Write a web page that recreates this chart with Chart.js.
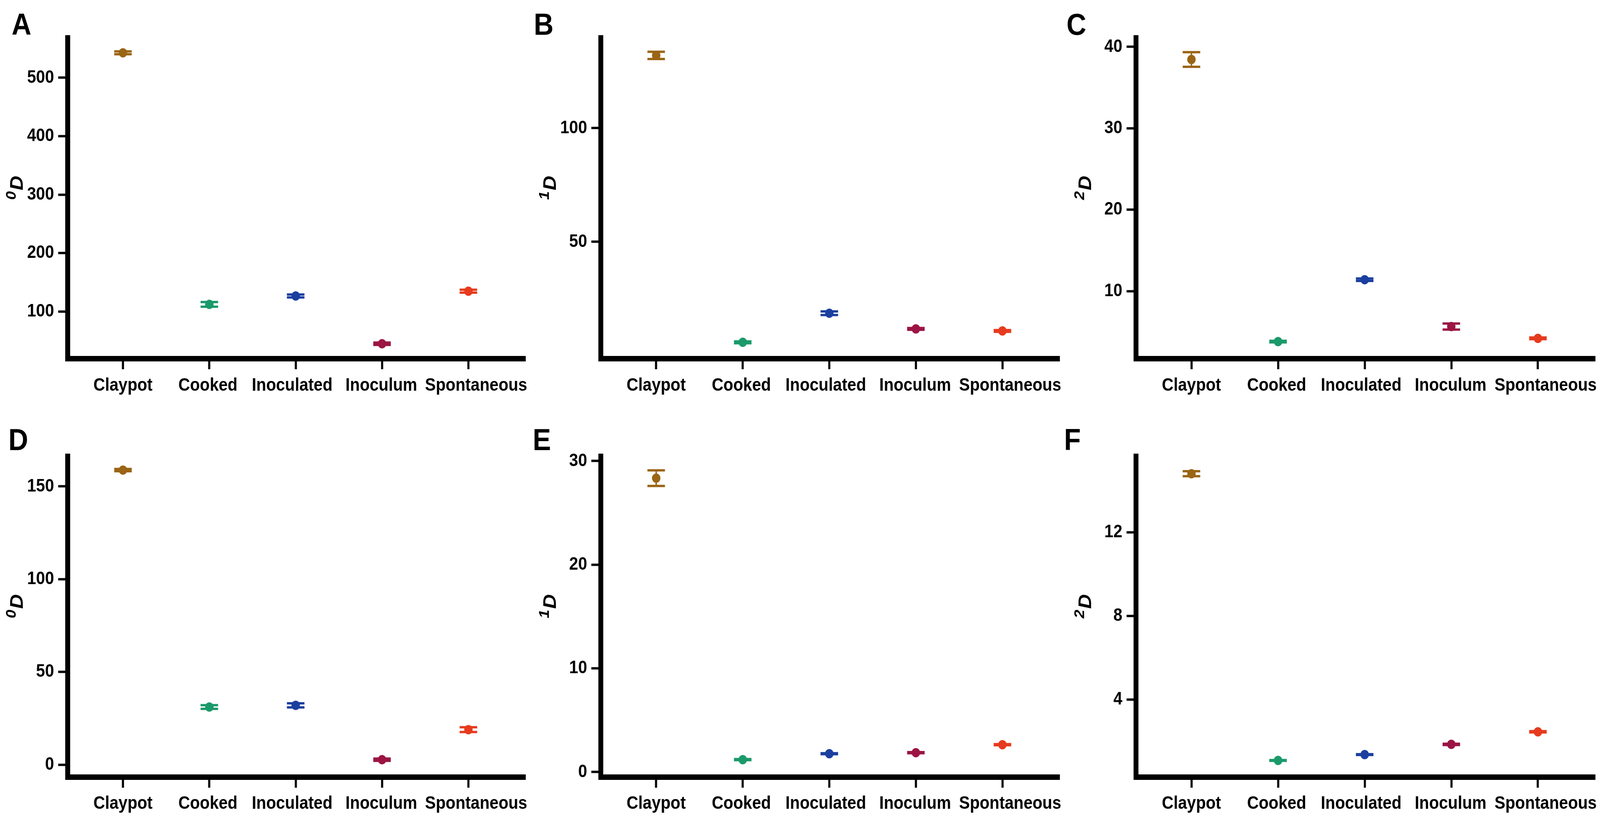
<!DOCTYPE html>
<html>
<head>
<meta charset="utf-8">
<script src="https://cdn.jsdelivr.net/npm/chart.js@4.4.1/dist/chart.umd.min.js"></script>
<style>
  html, body { margin: 0; padding: 0; background: #fff; overflow: hidden; }
  #page { width: 4562px; height: 2091px; position: absolute; left: 0; top: 0; transform-origin: 0 0; font-family: 'Liberation Sans', Arial, sans-serif; }
  canvas { position: absolute; }
  .tag { position: absolute; font-weight: bold; font-size: 78px; line-height: 1; color: #000; }
</style>
</head>
<body>
<div id="page">
<div class="tag" style="left:33px;top:23px">A</div>
<div class="tag" style="left:1522px;top:23px">B</div>
<div class="tag" style="left:3041px;top:23px">C</div>
<div class="tag" style="left:24px;top:1086px">D</div>
<div class="tag" style="left:1519px;top:1086px">E</div>
<div class="tag" style="left:3034px;top:1086px">F</div>

<canvas id="chartA" width="1520" height="1045" style="left:0;top:0;width:1520px;height:1045px"></canvas>
<canvas id="chartB" width="1520" height="1045" style="left:1520px;top:0;width:1520px;height:1045px"></canvas>
<canvas id="chartC" width="1522" height="1045" style="left:3040px;top:0;width:1522px;height:1045px"></canvas>
<canvas id="chartD" width="1520" height="1046" style="left:0;top:1045px;width:1520px;height:1046px"></canvas>
<canvas id="chartE" width="1520" height="1046" style="left:1520px;top:1045px;width:1520px;height:1046px"></canvas>
<canvas id="chartF" width="1522" height="1046" style="left:3040px;top:1045px;width:1522px;height:1046px"></canvas>
</div>

<script>
// Nhóm mẫu và màu
const categories = ['Claypot', 'Cooked', 'Inoculated', 'Inoculum', 'Spontaneous'];
const groupColors = ['#9a6514', '#1a9a6a', '#1b3f9f', '#9b1444', '#e63b1e'];

// A: 0D (hàng trên)
const meanA = [542.7, 112, 126.5, 44.7, 134.7];
const sdA = [2.5, 4, 2.5, 2, 2.5];
const ticksA = [100, 200, 300, 400, 500];
const rangeA = [19.1, 568.2];

// B: 1D
const meanB = [132, 5.8, 18.6, 11.7, 10.8];
const sdB = [1.6, 0.4, 0.8, 0.4, 0.4];
const ticksB = [50, 100];
const rangeB = [-1.4, 139.7];

// C: 2D
const meanC = [38.45, 3.8, 11.4, 5.65, 4.2];
const sdC = [0.9, 0.1, 0.15, 0.37, 0.1];
const ticksC = [10, 20, 30, 40];
const rangeC = [1.7, 41.1];

// D: 0D (hàng dưới)
const meanD = [158.8, 31.1, 32, 2.7, 18.9];
const sdD = [0.6, 1, 1.1, 0.6, 1.3];
const ticksD = [0, 50, 100, 150];
const rangeD = [-6.7, 166.2];

// E: 1D
const meanE = [28.35, 1.2, 1.77, 1.87, 2.64];
const sdE = [0.75, 0.05, 0.05, 0.05, 0.05];
const ticksE = [0, 10, 20, 30];
const rangeE = [-0.49, 30.45];

// F: 2D
const meanF = [14.8, 1.08, 1.36, 1.85, 2.45];
const sdF = [0.12, 0.02, 0.02, 0.03, 0.03];
const ticksF = [4, 8, 12];
const rangeF = [0.28, 15.63];

const FONT = "'Liberation Sans', Arial, sans-serif";
// Dịch nhãn trục x (px) để các nhãn không dính nhau
const labelShift = [0, -4, -10, -2, 22];

// Co giãn toàn trang theo khung nhìn thực tế
const page = document.getElementById('page');
page.style.transform = `scale(${window.innerWidth / 4562}, ${window.innerHeight / 2091})`;

// Thanh sai số vẽ qua scale của Chart.js
function makeErrorBars(mean, sd) {
  return {
    id: 'errorBars',
    beforeDatasetsDraw(chart) {
      const { ctx, scales: { x, y } } = chart;
      ctx.save();
      ctx.lineCap = 'butt';
      mean.forEach((m, i) => {
        const px = x.getPixelForValue(i);
        const top = y.getPixelForValue(m + sd[i]);
        const bot = y.getPixelForValue(m - sd[i]);
        ctx.strokeStyle = groupColors[i];
        ctx.lineWidth = 4;
        ctx.beginPath();
        ctx.moveTo(px, top);
        ctx.lineTo(px, bot);
        ctx.stroke();
        ctx.lineWidth = 6;
        ctx.beginPath();
        ctx.moveTo(px - 25, top); ctx.lineTo(px + 25, top);
        ctx.moveTo(px - 25, bot); ctx.lineTo(px + 25, bot);
        ctx.stroke();
      });
      ctx.restore();
    }
  };
}

// Nhãn nhóm dưới trục x
function makeXLabels(baseOffset) {
  return {
    id: 'xLabels',
    afterDraw(chart) {
      const { ctx, chartArea, scales: { x } } = chart;
      ctx.save();
      ctx.font = 'bold 46px ' + FONT;
      ctx.fillStyle = '#000';
      ctx.textAlign = 'center';
      ctx.textBaseline = 'alphabetic';
      categories.forEach((c, i) => {
        ctx.fillText(c, x.getPixelForValue(i) + labelShift[i], chartArea.bottom + baseOffset);
      });
      ctx.restore();
    }
  };
}

// Tiêu đề trục y dạng ⁿD, xoay dọc
function makeYTitle(sup) {
  return {
    id: 'yTitle',
    afterDraw(chart) {
      const { ctx, chartArea } = chart;
      const cx = chartArea.left - 128;
      const cy = (chartArea.top + chartArea.bottom) / 2 - 26;
      ctx.save();
      ctx.translate(cx, cy);
      ctx.rotate(-Math.PI / 2);
      ctx.fillStyle = '#000';
      ctx.textBaseline = 'alphabetic';
      ctx.textAlign = 'left';
      const supFont = 'italic bold 40px ' + FONT;
      const mainFont = 'italic bold 52px ' + FONT;
      ctx.font = supFont;
      const w0 = ctx.measureText(sup).width;
      ctx.font = mainFont;
      const w1 = ctx.measureText('D').width;
      const start = -(w0 + w1) / 2;
      ctx.font = supFont;
      ctx.fillText(sup, start, -20);
      ctx.font = mainFont;
      ctx.fillText('D', start + w0 + 2, 0);
      ctx.restore();
    }
  };
}

function buildChart(id, mean, sd, yTicks, range, sup, pad, xHeight, labelBase) {
  const ctx = document.getElementById(id).getContext('2d');
  return new Chart(ctx, {
    type: 'scatter',
    data: {
      datasets: [{
        data: mean.map((v, i) => ({ x: i, y: v })),
        backgroundColor: groupColors,
        borderWidth: 0,
        pointRadius: 12,
        pointHoverRadius: 12
      }]
    },
    options: {
      responsive: false,
      animation: false,
      devicePixelRatio: 1,
      layout: { padding: pad },
      plugins: {
        legend: { display: false },
        tooltip: { enabled: false }
      },
      scales: {
        x: {
          type: 'linear',
          min: -0.64,
          max: 4.66,
          afterBuildTicks: s => { s.ticks = categories.map((c, i) => ({ value: i })); },
          afterFit: s => { s.height = xHeight; },
          ticks: { display: false },
          grid: { drawOnChartArea: false, drawTicks: true, tickLength: 27, tickWidth: 6, tickColor: '#000' },
          border: { display: true, color: '#000', width: 14 }
        },
        y: {
          type: 'linear',
          min: range[0],
          max: range[1],
          afterBuildTicks: s => { s.ticks = yTicks.map(v => ({ value: v })); },
          afterFit: s => { s.width = 190; },
          ticks: {
            callback: v => String(v),
            padding: 12,
            color: '#000',
            font: { family: FONT, size: 46, weight: 'bold' }
          },
          grid: { drawOnChartArea: false, drawTicks: true, tickLength: 27, tickWidth: 6, tickColor: '#000' },
          border: { display: true, color: '#000', width: 14 }
        }
      }
    },
    plugins: [makeErrorBars(mean, sd), makeXLabels(labelBase), makeYTitle(sup)]
  });
}

buildChart('chartA', meanA, sdA, ticksA, rangeA, '0', { left: 3, right: 22, top: 97, bottom: 17 }, 110, 82);
buildChart('chartB', meanB, sdB, ticksB, rangeB, '1', { left: 3, right: 19, top: 97, bottom: 17 }, 110, 82);
buildChart('chartC', meanC, sdC, ticksC, rangeC, '2', { left: 9, right: 14, top: 97, bottom: 17 }, 110, 82);
buildChart('chartD', meanD, sdD, ticksD, rangeD, '0', { left: 3, right: 22, top: 123, bottom: 2 }, 100, 81);
buildChart('chartE', meanE, sdE, ticksE, rangeE, '1', { left: 3, right: 19, top: 123, bottom: 2 }, 100, 81);
buildChart('chartF', meanF, sdF, ticksF, rangeF, '2', { left: 9, right: 14, top: 123, bottom: 2 }, 100, 81);
</script>
</body>
</html>
